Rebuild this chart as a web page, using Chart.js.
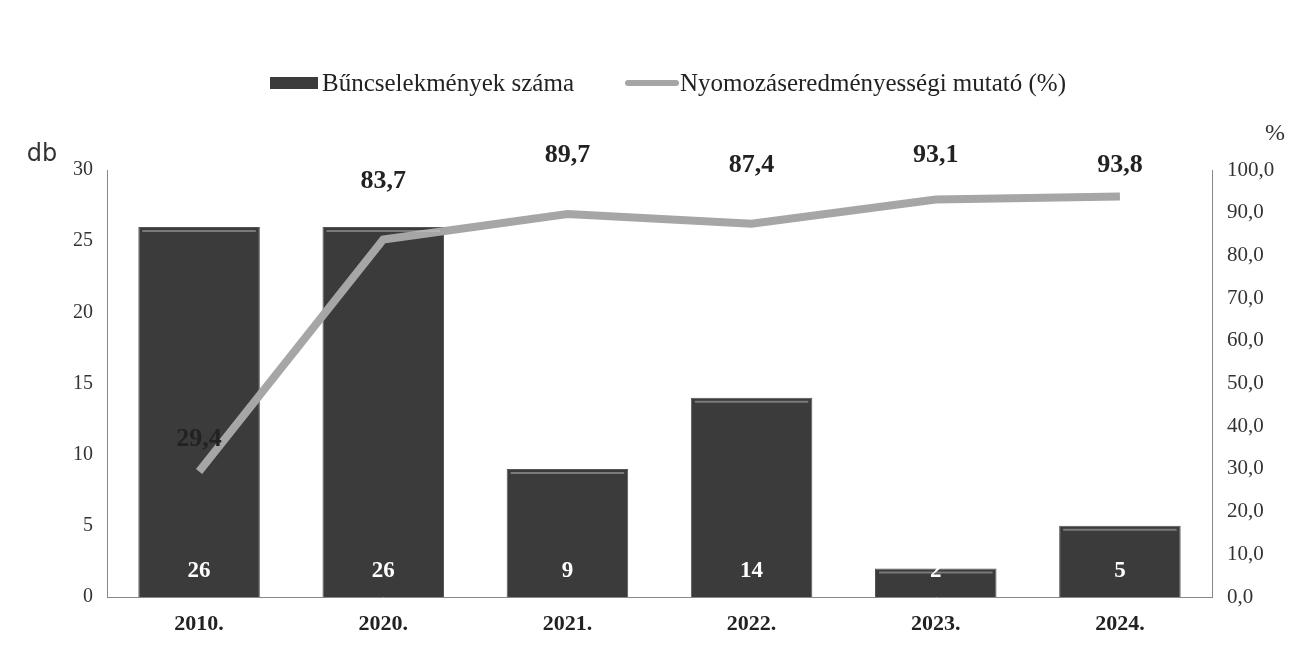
<!DOCTYPE html>
<html>
<head>
<meta charset="utf-8">
<script src="https://cdn.jsdelivr.net/npm/chart.js@4.4.1/dist/chart.umd.min.js"></script>
<style>
  html, body { margin: 0; padding: 0; background: #fff; }
  #wrap { width: 1302px; height: 661px; }
</style>
</head>
<body>
<div id="wrap"><canvas id="chart"></canvas></div>
<script>
const years = ['2010.', '2020.', '2021.', '2022.', '2023.', '2024.'];
const crimeCount = [26, 26, 9, 14, 2, 5];
const clearanceRate = [29.4, 83.7, 89.7, 87.4, 93.1, 93.8];

const serif = '"Liberation Serif", "Times New Roman", serif';
const comma = v => String(v).replace('.', ',');
// how far above each point its value sits, as in the original
const lineLabelOffset = [32, 58, 59, 59, 44, 31];

const labelsPlugin = {
    id: 'labels',
    afterDatasetsDraw(chart) {
        const ctx = chart.ctx;
        ctx.save();
        ctx.textAlign = 'center';
        ctx.textBaseline = 'middle';

        // light bevel line on top of the bars
        ctx.strokeStyle = 'rgba(200,200,200,0.45)';
        ctx.lineWidth = 2;
        chart.getDatasetMeta(0).data.forEach(bar => {
            const half = bar.width / 2;
            ctx.beginPath();
            ctx.moveTo(bar.x - half + 4, bar.y + 4);
            ctx.lineTo(bar.x + half - 4, bar.y + 4);
            ctx.stroke();
        });

        // bar values, white, near the base
        ctx.font = 'bold 23px ' + serif;
        ctx.fillStyle = '#fff';
        const bottom = chart.chartArea.bottom;
        chart.getDatasetMeta(0).data.forEach((bar, i) => {
            ctx.fillText(crimeCount[i], bar.x, bottom - 26);
        });

        // line values, above the points
        ctx.font = 'bold 26px ' + serif;
        ctx.fillStyle = '#222';
        chart.getDatasetMeta(1).data.forEach((pt, i) => {
            ctx.fillText(comma(clearanceRate[i].toFixed(1)), pt.x, pt.y - lineLabelOffset[i]);
        });

        // axis unit captions
        ctx.font = '24px "DejaVu Sans", sans-serif';
        ctx.fillStyle = '#333';
        ctx.fillText('db', 42, 155);
        ctx.font = '24px ' + serif;
        ctx.fillText('%', 1275, 134);

        // legend
        const ds = chart.data.datasets;
        ctx.textAlign = 'left';
        ctx.font = '25px ' + serif;
        ctx.fillStyle = ds[0].backgroundColor;
        ctx.fillRect(270, 77, 48, 12);
        ctx.fillStyle = '#222';
        ctx.fillText(ds[0].label, 322, 84);
        ctx.strokeStyle = ds[1].borderColor;
        ctx.lineWidth = 6;
        ctx.lineCap = 'round';
        ctx.beginPath();
        ctx.moveTo(628, 83);
        ctx.lineTo(676, 83);
        ctx.stroke();
        ctx.fillText(ds[1].label, 680, 84);
        ctx.restore();
    }
};

new Chart(document.getElementById('chart'), {
    data: {
        labels: years,
        datasets: [
            {
                type: 'bar',
                label: 'Bűncselekmények száma',
                data: crimeCount,
                backgroundColor: '#3b3b3b',
                borderColor: '#555',
                borderWidth: 1,
                yAxisID: 'y',
                order: 2,
                categoryPercentage: 1,
                barPercentage: 0.66
            },
            {
                type: 'line',
                label: 'Nyomozáseredményességi mutató (%)',
                data: clearanceRate,
                borderColor: '#a6a6a6',
                backgroundColor: '#a6a6a6',
                borderWidth: 8,
                pointRadius: 0,
                tension: 0,
                yAxisID: 'y1',
                order: 1
            }
        ]
    },
    options: {
        responsive: true,
        maintainAspectRatio: false,
        animation: false,
        layout: { padding: { top: 170, left: 0, right: 0, bottom: 0 } },
        plugins: {
            tooltip: { enabled: false },
            legend: { display: false }
        },
        scales: {
            x: {
                grid: { display: false },
                border: { color: '#888' },
                ticks: { font: { family: serif, size: 22, weight: 'bold' }, color: '#222', padding: 6 },
                afterFit(s) { s.height = 64; }
            },
            y: {
                position: 'left',
                min: 0, max: 30,
                ticks: { stepSize: 5, font: { family: serif, size: 20 }, color: '#333', padding: 14 },
                grid: { display: false, drawTicks: false },
                border: { color: '#888' },
                afterFit(s) { s.width = 107; }
            },
            y1: {
                position: 'right',
                min: 0, max: 100,
                ticks: {
                    stepSize: 10,
                    font: { family: serif, size: 21 },
                    color: '#333',
                    padding: 15,
                    callback: v => comma(v.toFixed(1))
                },
                grid: { display: false, drawTicks: false },
                border: { color: '#888' },
                afterFit(s) { s.width = 90; }
            }
        }
    },
    plugins: [labelsPlugin]
});
</script>
</body>
</html>
